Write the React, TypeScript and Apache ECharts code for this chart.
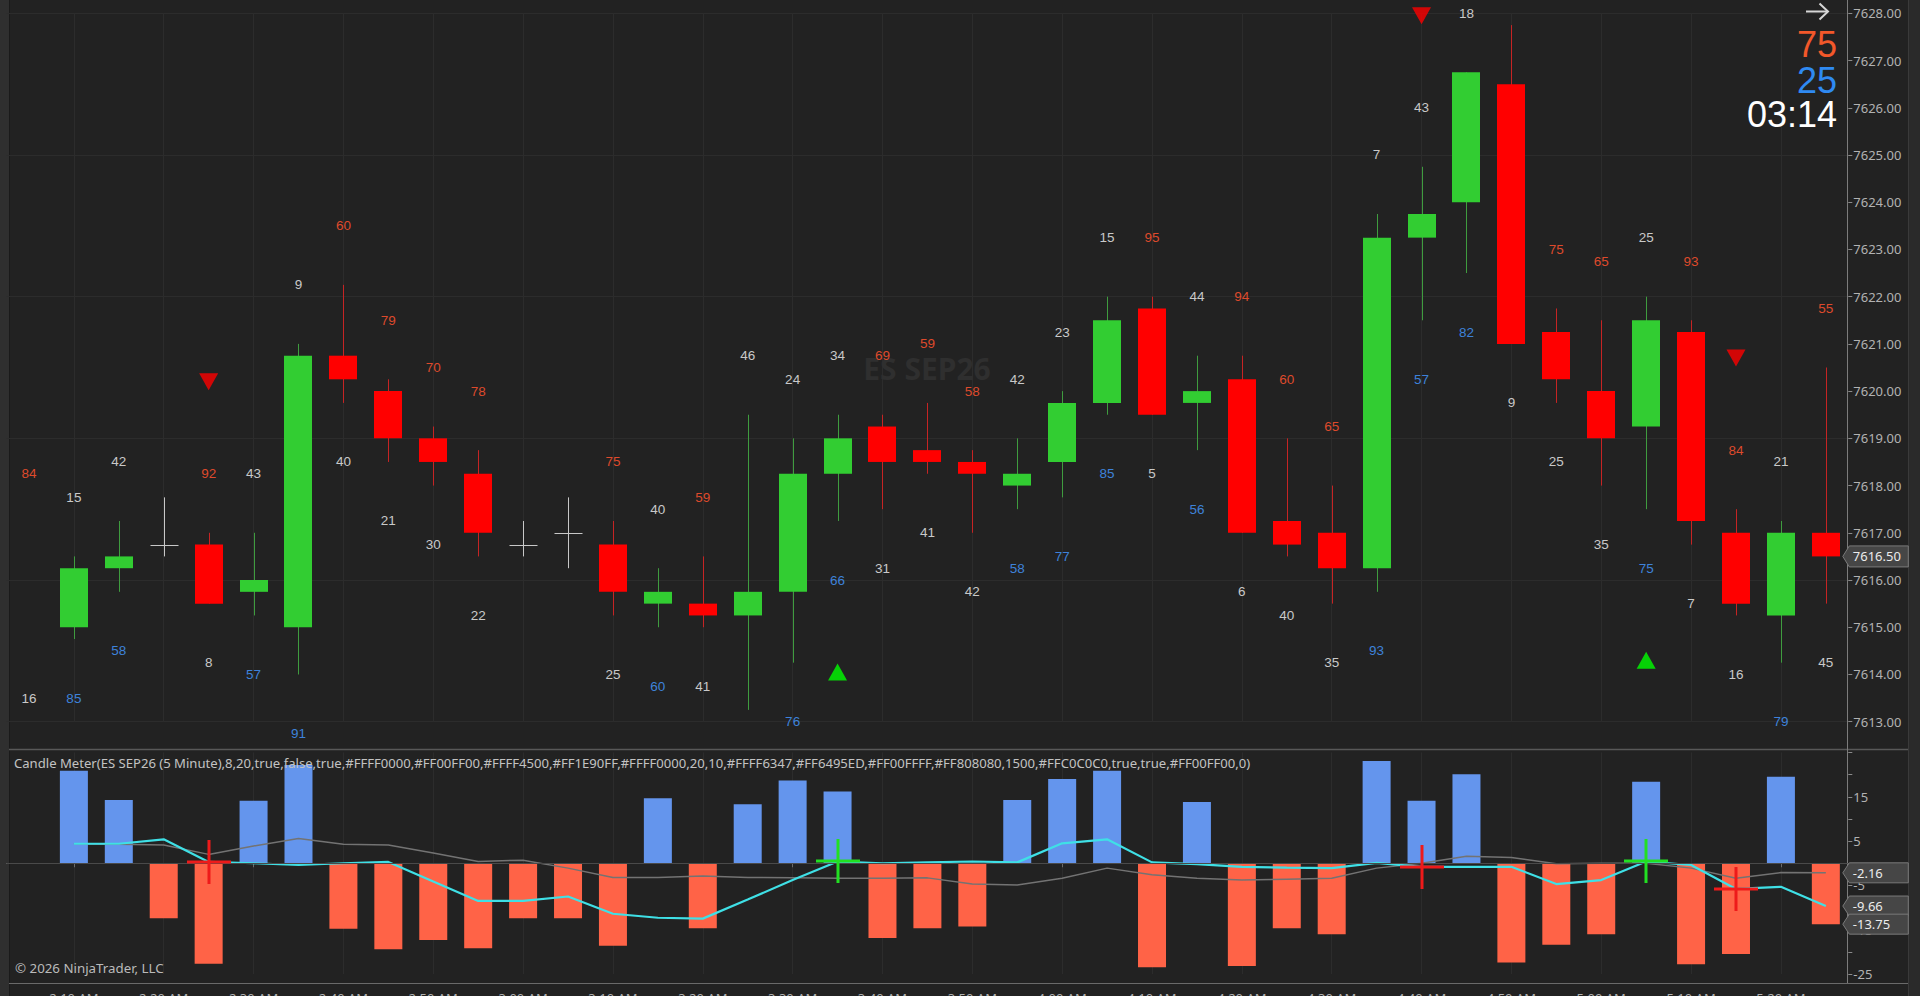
import React, { useEffect, useRef } from "react";
import * as echarts from "echarts";

// ---------- categories (5 minute bars) ----------
const times: string[] = [
  "2:05 AM", "2:10 AM", "2:15 AM", "2:20 AM", "2:25 AM", "2:30 AM", "2:35 AM", "2:40 AM", "2:45 AM", "2:50 AM",
  "2:55 AM", "3:00 AM", "3:05 AM", "3:10 AM", "3:15 AM", "3:20 AM", "3:25 AM", "3:30 AM", "3:35 AM", "3:40 AM",
  "3:45 AM", "3:50 AM", "3:55 AM", "4:00 AM", "4:05 AM", "4:10 AM", "4:15 AM", "4:20 AM", "4:25 AM", "4:30 AM",
  "4:35 AM", "4:40 AM", "4:45 AM", "4:50 AM", "4:55 AM", "5:00 AM", "5:05 AM", "5:10 AM", "5:15 AM", "5:20 AM",
  "5:25 AM",
];

// ---------- price bars ----------
const opens: (number | null)[] = [
  null, 7615.0, 7616.25, 7616.75, 7616.75, 7615.75, 7615.0, 7620.75, 7620.0, 7619.0,
  7618.25, 7616.75, 7617.0, 7616.75, 7615.5, 7615.5, 7615.25, 7615.75, 7618.25, 7619.25,
  7618.75, 7618.5, 7618.0, 7618.5, 7619.75, 7621.75, 7619.75, 7620.25, 7617.25, 7617.0,
  7616.25, 7623.25, 7624.0, 7626.5, 7621.25, 7620.0, 7619.25, 7621.25, 7617.0, 7615.25,
  7617.0,
];
const closes: (number | null)[] = [
  null, 7616.25, 7616.5, 7616.75, 7615.5, 7616.0, 7620.75, 7620.25, 7619.0, 7618.5,
  7617.0, 7616.75, 7617.0, 7615.75, 7615.75, 7615.25, 7615.75, 7618.25, 7619.0, 7618.5,
  7618.5, 7618.25, 7618.25, 7619.75, 7621.5, 7619.5, 7620.0, 7617.0, 7616.75, 7616.25,
  7623.25, 7623.75, 7626.75, 7621.0, 7620.25, 7619.0, 7621.5, 7617.25, 7615.5, 7617.0,
  7616.5,
];
const highs: number[] = [
  7617.0, 7616.5, 7617.25, 7617.75, 7617.0, 7617.0, 7621.0, 7622.25, 7620.25, 7619.25,
  7618.75, 7617.25, 7617.75, 7617.25, 7616.25, 7616.5, 7619.5, 7619.0, 7619.5, 7619.5,
  7619.75, 7618.75, 7619.0, 7620.0, 7622.0, 7622.0, 7620.75, 7620.75, 7619.0, 7618.0,
  7623.75, 7624.75, 7626.75, 7627.75, 7621.75, 7621.5, 7622.0, 7621.5, 7617.5, 7617.25,
  7620.5,
];
const lows: number[] = [
  7614.75, 7614.75, 7615.75, 7616.5, 7615.5, 7615.25, 7614.0, 7619.75, 7618.5, 7618.0,
  7616.5, 7616.5, 7616.25, 7615.25, 7615.0, 7615.0, 7613.25, 7614.25, 7617.25, 7617.5,
  7618.25, 7617.0, 7617.5, 7617.75, 7619.5, 7619.5, 7618.75, 7617.0, 7616.5, 7615.5,
  7615.75, 7621.5, 7622.5, 7621.0, 7619.75, 7618.0, 7617.5, 7616.75, 7615.25, 7614.25,
  7615.5,
];

// ---------- per-bar meter numbers ----------
const upperValues: (number | null)[] = [
  84, 15, 42, null, 92, 43, 9, 60, 79, 70,
  78, null, null, 75, 40, 59, 46, 24, 34, 69,
  59, 58, 42, 23, 15, 95, 44, 94, 60, 65,
  7, 43, 18, null, 75, 65, 25, 93, 84, 21,
  55,
];
const upperKinds: string[] = [
  "r", "g", "g", "g", "r", "g", "g", "r", "r", "r",
  "r", "g", "g", "r", "g", "r", "g", "g", "g", "r",
  "r", "r", "g", "g", "g", "r", "g", "r", "r", "r",
  "g", "g", "g", "r", "r", "r", "g", "r", "r", "g",
  "r",
];
const lowerValues: (number | null)[] = [
  16, 85, 58, null, 8, 57, 91, 40, 21, 30,
  22, null, null, 25, 60, 41, null, 76, 66, 31,
  41, 42, 58, 77, 85, 5, 56, 6, 40, 35,
  93, 57, 82, 9, 25, 35, 75, 7, 16, 79,
  45,
];
const lowerKinds: string[] = [
  "g", "b", "b", "g", "g", "b", "b", "g", "g", "g",
  "g", "g", "g", "g", "b", "g", "b", "b", "b", "g",
  "g", "g", "b", "b", "b", "g", "b", "g", "g", "g",
  "b", "b", "b", "g", "g", "g", "b", "g", "g", "b",
  "g",
];

// ---------- signals ----------
const sellSignalBars: number[] = [4, 31, 38];
const buySignalBars: number[] = [18, 36];

// ---------- Candle Meter panel ----------
const meterBars: (number | null)[] = [
  null, 20.9, 14.3, -12.4, -22.7, 14.1, 22.2, -14.8, -19.4, -17.3,
  -19.2, -12.4, -12.4, -18.6, 14.7, -14.7, 13.3, 18.7, 16.2, -16.9,
  -14.7, -14.3, 14.3, 19.0, 20.9, -23.5, 13.8, -23.2, -14.7, -16.0,
  23.1, 14.1, 20.1, -22.4, -18.4, -16.0, 18.4, -22.8, -20.5, 19.5,
  -13.75,
];
const fastLine: (number | null)[] = [
  null, 4.4, 4.4, 5.4, 0.3, 0.0, -0.4, 0.0, 0.3, -4.1,
  -8.5, -8.5, -7.5, -11.4, -12.3, -12.5, -8.2, -3.8, 0.4, 0.0,
  0.2, 0.4, 0.2, 4.5, 5.4, 0.2, -0.2, -0.8, -1.0, -1.1,
  0.1, -0.8, -0.8, -0.8, -4.7, -3.8, 0.4, -0.4, -5.8, -5.3,
  -9.66,
];
const slowLine: (number | null)[] = [
  null, 4.4, 4.3, 4.1, 2.0, 3.9, 5.6, 4.3, 4.1, 2.3,
  0.4, 0.7, -1.1, -3.2, -3.2, -2.9, -3.2, -3.3, -3.4, -3.4,
  -3.3, -4.7, -4.9, -3.4, -1.1, -2.6, -3.4, -3.8, -3.6, -3.4,
  -1.1, 0.0, 1.6, 1.3, -0.1, 0.0, 0.0, -1.1, -3.4, -2.1,
  -2.16,
];
const meterAxisLabels: number[] = [15, 5, -5, -15, -25];

// ---------- overlay texts ----------
const instrument = "ES SEP26";
const indicatorTitle =
  "Candle Meter(ES SEP26 (5 Minute),8,20,true,false,true,#FFFF0000,#FF00FF00,#FFFF4500,#FF1E90FF,#FFFF0000,20,10,#FFFF6347,#FF6495ED,#FF00FFFF,#FF808080,1500,#FFC0C0C0,true,true,#FF00FF00,0)";
const copyright = "© 2026 NinjaTrader, LLC";
const sellPct = "75";
const buyPct = "25";
const barTimer = "03:14";

// ---------- styles ----------
const BG = "#222222";
const GRID_C = "#2c2c2c";
const UP = "#32CD32";
const DOWN = "#FF0000";
const UP_WICK = "#3f9c3f";
const DOWN_WICK = "#c62424";
const DOJI = "#c8c8c8";
const LBL = { r: "#DE4A2C", g: "#C9C9C9", b: "#3E82DA" } as Record<string, string>;
const LABEL_GAP = 1.25;
const SIGNAL_GAP = 3.2;
const AXIS_FONT = "Noto Sans";
const NUM_FONT = "Liberation Sans";

const oddIdx = (i: number) => i % 2 === 1;

function buildOption(): any {
  const candleData: number[][] = [];
  opens.forEach((o, i) => {
    const c = closes[i];
    if (o != null && c != null) candleData.push([i, o, c, lows[i], highs[i]]);
  });

  const labelItems: { i: number; p: number; text: string; color: string }[] = [];
  upperValues.forEach((v, i) => {
    if (v != null) labelItems.push({ i, p: highs[i] + LABEL_GAP, text: String(v), color: LBL[upperKinds[i]] });
  });
  lowerValues.forEach((v, i) => {
    if (v != null) labelItems.push({ i, p: lows[i] - LABEL_GAP, text: String(v), color: LBL[lowerKinds[i]] });
  });

  const crossItems = [
    ...sellSignalBars.map((i) => ({ i, v: fastLine[i] as number, color: "#ee1a1a" })),
    ...buySignalBars.map((i) => ({ i, v: fastLine[i] as number, color: "#22e022" })),
  ];

  const last = times.length - 1;
  const meterTags = [
    { v: slowLine[last] as number },
    { v: fastLine[last] as number },
    { v: meterBars[last] as number },
  ];

  const tagRender = (texts: string[], hh: number) => (params: any, api: any) => {
    const p = api.coord([api.value(0), api.value(1)]);
    const cs = params.coordSys;
    const re = cs.x + cs.width;
    const y = p[1];
    return {
      type: "group",
      children: [
        {
          type: "polygon",
          shape: { points: [[re - 5.5, y], [re + 1, y - hh], [re + 60, y - hh], [re + 60, y + hh], [re + 1, y + hh]] },
          style: { fill: "#464646", stroke: "#7a7a7a", lineWidth: 1 },
        },
        {
          type: "text",
          x: re + 4.5,
          y: y,
          style: { text: texts[params.dataIndex], fill: "#ececec", font: `13px "${AXIS_FONT}"`, align: "left", verticalAlign: "middle" },
        },
      ],
    };
  };

  const axisLabelStyle = { color: "#b2b2b2", fontSize: 13, fontFamily: AXIS_FONT, margin: 5 };

  return {
    animation: false,
    backgroundColor: BG,
    textStyle: { fontFamily: AXIS_FONT },
    grid: [
      { left: 6.5, right: 71.7, top: 13.3, height: 708.4, containLabel: false, outerBoundsMode: "none" },
      { left: 6.5, right: 71.7, top: 752.5, height: 221.5, containLabel: false, outerBoundsMode: "none" },
    ],
    xAxis: [
      {
        type: "category",
        gridIndex: 0,
        data: times,
        boundaryGap: true,
        axisLine: { show: false },
        axisTick: { show: false },
        axisLabel: { show: false },
        splitLine: { show: true, interval: oddIdx, alignWithLabel: true, lineStyle: { color: GRID_C, width: 1 } },
      },
      {
        type: "category",
        gridIndex: 1,
        data: times,
        boundaryGap: true,
        offset: 9,
        axisLine: { show: true, lineStyle: { color: "#6a6a6a" } },
        axisTick: { show: true, interval: oddIdx, alignWithLabel: true, length: 4, lineStyle: { color: "#6a6a6a" } },
        axisLabel: { interval: oddIdx, margin: 8, color: "#b0b0b0", fontSize: 13, fontFamily: AXIS_FONT },
        splitLine: { show: true, interval: oddIdx, alignWithLabel: true, lineStyle: { color: GRID_C, width: 1 } },
      },
    ],
    yAxis: [
      {
        type: "value",
        gridIndex: 0,
        position: "right",
        min: 7613,
        max: 7628,
        interval: 1,
        axisLine: { show: false },
        axisTick: { show: true, length: 4, lineStyle: { color: "#8a8a8a" } },
        axisLabel: { ...axisLabelStyle, formatter: (v: number) => v.toFixed(2) },
        splitLine: { show: false },
      },
      {
        type: "value",
        gridIndex: 0,
        position: "right",
        min: 7613,
        max: 7628,
        interval: 3,
        axisLine: { show: false },
        axisTick: { show: false },
        axisLabel: { show: false },
        splitLine: { show: true, lineStyle: { color: GRID_C, width: 1 } },
      },
      {
        type: "value",
        gridIndex: 1,
        position: "right",
        min: -25,
        max: 25,
        interval: 5,
        axisLine: { show: false },
        axisTick: { show: true, length: 4, lineStyle: { color: "#8a8a8a" } },
        axisLabel: { ...axisLabelStyle, formatter: (v: number) => (meterAxisLabels.includes(v) ? String(v) : "") },
        splitLine: { show: false },
      },
    ],
    series: [
      {
        type: "custom",
        name: "candles",
        xAxisIndex: 0,
        yAxisIndex: 0,
        clip: false,
        z: 3,
        data: candleData,
        encode: { x: 0, y: [1, 2, 3, 4] },
        renderItem: (params: any, api: any) => {
          const i = api.value(0);
          const o = api.value(1);
          const c = api.value(2);
          const l = api.value(3);
          const h = api.value(4);
          const pO = api.coord([i, o]);
          const pC = api.coord([i, c]);
          const pL = api.coord([i, l]);
          const pH = api.coord([i, h]);
          const band = api.size([1, 0])[0];
          const bw = Math.round(band * 0.62);
          const xc = Math.round(pO[0]) + 0.5;
          const doji = o === c;
          const up = c > o;
          const children: any[] = [
            {
              type: "line",
              shape: { x1: xc, y1: pH[1], x2: xc, y2: pL[1] },
              style: { stroke: doji ? DOJI : up ? UP_WICK : DOWN_WICK, lineWidth: 1 },
            },
          ];
          if (doji) {
            const yy = Math.round(pO[1]) + 0.5;
            children.push({
              type: "line",
              shape: { x1: xc - bw / 2, y1: yy, x2: xc + bw / 2, y2: yy },
              style: { stroke: DOJI, lineWidth: 1 },
            });
          } else {
            const top = Math.min(pO[1], pC[1]);
            const bot = Math.max(pO[1], pC[1]);
            children.push({
              type: "rect",
              shape: { x: xc - 0.5 - bw / 2, y: top, width: bw, height: bot - top },
              style: { fill: up ? UP : DOWN },
            });
          }
          return { type: "group", children };
        },
      },
      {
        type: "custom",
        name: "meter numbers",
        xAxisIndex: 0,
        yAxisIndex: 0,
        clip: false,
        z: 4,
        data: labelItems.map((d) => [d.i, d.p]),
        renderItem: (params: any, api: any) => {
          const d = labelItems[params.dataIndex];
          const p = api.coord([api.value(0), api.value(1)]);
          return {
            type: "text",
            x: p[0],
            y: p[1],
            style: { text: d.text, fill: d.color, font: `13.5px "${NUM_FONT}"`, align: "center", verticalAlign: "middle" },
          };
        },
      },
      {
        type: "scatter",
        name: "sell",
        xAxisIndex: 0,
        yAxisIndex: 0,
        clip: false,
        z: 4,
        symbol: "triangle",
        symbolRotate: 180,
        symbolSize: [19, 17],
        itemStyle: { color: "#FF0000" },
        data: sellSignalBars.map((i) => [i, highs[i] + SIGNAL_GAP]),
      },
      {
        type: "scatter",
        name: "buy",
        xAxisIndex: 0,
        yAxisIndex: 0,
        clip: false,
        z: 4,
        symbol: "triangle",
        symbolSize: [19, 17],
        itemStyle: { color: "#00FF00" },
        data: buySignalBars.map((i) => [i, lows[i] - SIGNAL_GAP]),
      },
      {
        type: "custom",
        name: "price tag",
        xAxisIndex: 0,
        yAxisIndex: 0,
        clip: false,
        z: 10,
        data: [[last, closes[last] as number]],
        renderItem: tagRender([(closes[last] as number).toFixed(2)], 10.5),
      },
      {
        type: "bar",
        name: "meter",
        xAxisIndex: 1,
        yAxisIndex: 2,
        barWidth: 28,
        z: 2,
        data: meterBars.map((v) =>
          v == null ? "-" : { value: v, itemStyle: { color: v >= 0 ? "#6495ED" : "#FF6347" } }
        ),
        markLine: {
          silent: true,
          symbol: ["none", "none"],
          label: { show: false },
          lineStyle: { color: "#4a4a4a", type: "solid", width: 1 },
          data: [{ yAxis: 0 }],
        },
      },
      {
        type: "line",
        name: "slow",
        xAxisIndex: 1,
        yAxisIndex: 2,
        z: 3,
        symbol: "none",
        showSymbol: false,
        lineStyle: { color: "#737373", width: 1.5 },
        data: slowLine.map((v) => (v == null ? "-" : v)),
      },
      {
        type: "line",
        name: "fast",
        xAxisIndex: 1,
        yAxisIndex: 2,
        z: 4,
        symbol: "none",
        showSymbol: false,
        lineStyle: { color: "#3fe0e6", width: 2.2 },
        data: fastLine.map((v) => (v == null ? "-" : v)),
      },
      {
        type: "custom",
        name: "signal marks",
        xAxisIndex: 1,
        yAxisIndex: 2,
        clip: false,
        z: 5,
        data: crossItems.map((d) => [d.i, d.v]),
        renderItem: (params: any, api: any) => {
          const d = crossItems[params.dataIndex];
          const p = api.coord([api.value(0), api.value(1)]);
          const x = Math.round(p[0]);
          const y = Math.round(p[1]);
          return {
            type: "group",
            children: [
              { type: "line", shape: { x1: x - 22, y1: y, x2: x + 22, y2: y }, style: { stroke: d.color, lineWidth: 3 } },
              { type: "line", shape: { x1: x, y1: y - 22, x2: x, y2: y + 22 }, style: { stroke: d.color, lineWidth: 3 } },
            ],
          };
        },
      },
      {
        type: "custom",
        name: "meter tags",
        xAxisIndex: 1,
        yAxisIndex: 2,
        clip: false,
        z: 10,
        data: meterTags.map((t) => [last, t.v]),
        renderItem: tagRender(meterTags.map((t) => t.v.toFixed(2)), 10),
      },
    ],
    graphic: {
      elements: [
        { type: "rect", z: 0, silent: true, shape: { x: 0, y: 0, width: 9, height: 996 }, style: { fill: "#2f2f2f" } },
        { type: "line", z: 0, silent: true, shape: { x1: 9.5, y1: 0, x2: 9.5, y2: 996 }, style: { stroke: "#1a1a1a", lineWidth: 1 } },
        { type: "rect", z: 0, silent: true, shape: { x: 1909, y: 0, width: 11, height: 996 }, style: { fill: "#2a2a2a" } },
        { type: "line", z: 0, silent: true, shape: { x1: 1908.5, y1: 0, x2: 1908.5, y2: 996 }, style: { stroke: "#3a3a3a", lineWidth: 1 } },
        { type: "line", z: 1, silent: true, shape: { x1: 9, y1: 749.5, x2: 1908, y2: 749.5 }, style: { stroke: "#585858", lineWidth: 1.5 } },
        { type: "line", z: 1, silent: true, shape: { x1: 9, y1: 983.5, x2: 1908, y2: 983.5 }, style: { stroke: "#6a6a6a", lineWidth: 1 } },
        { type: "line", z: 1, silent: true, shape: { x1: 1847.5, y1: 0, x2: 1847.5, y2: 983 }, style: { stroke: "#7c7c7c", lineWidth: 1 } },
        {
          type: "text",
          z: 1,
          silent: true,
          x: 927,
          y: 368,
          style: { text: instrument, fill: "#2f2f2f", font: `bold 30px "${AXIS_FONT}"`, align: "center", verticalAlign: "middle" },
        },
        {
          type: "text",
          z: 50,
          silent: true,
          x: 14,
          y: 763,
          style: { text: indicatorTitle, fill: "#c2c2c2", font: `13.1px "${AXIS_FONT}"`, align: "left", verticalAlign: "middle" },
        },
        {
          type: "text",
          z: 50,
          silent: true,
          x: 15,
          y: 968,
          style: { text: copyright, fill: "#bababa", font: `13.3px "${AXIS_FONT}"`, align: "left", verticalAlign: "middle" },
        },
        {
          type: "polyline",
          z: 50,
          silent: true,
          shape: { points: [[1806, 11.5], [1828, 11.5]] },
          style: { stroke: "#d6d6d6", lineWidth: 2 },
        },
        {
          type: "polyline",
          z: 50,
          silent: true,
          shape: { points: [[1819.5, 3.5], [1828, 11.5], [1819.5, 19.5]] },
          style: { stroke: "#d6d6d6", lineWidth: 2, fill: null },
        },
        {
          type: "text",
          z: 50,
          silent: true,
          x: 1837,
          y: 44,
          style: { text: sellPct, fill: "#F2582A", font: `36px "${NUM_FONT}"`, align: "right", verticalAlign: "middle" },
        },
        {
          type: "text",
          z: 50,
          silent: true,
          x: 1837,
          y: 80,
          style: { text: buyPct, fill: "#2F8AF2", font: `36px "${NUM_FONT}"`, align: "right", verticalAlign: "middle" },
        },
        {
          type: "text",
          z: 50,
          silent: true,
          x: 1837,
          y: 114.5,
          style: { text: barTimer, fill: "#ffffff", font: `36px "${NUM_FONT}"`, align: "right", verticalAlign: "middle" },
        },
      ],
    },
  };
}

export default function App() {
  const ref = useRef<HTMLDivElement>(null);
  useEffect(() => {
    if (!ref.current) return;
    const chart = echarts.init(ref.current, null, { renderer: "svg" });
    chart.setOption(buildOption());
    return () => {
      chart.dispose();
    };
  }, []);
  return <div ref={ref} style={{ position: "fixed", left: 0, top: 0, width: 1920, height: 996 }} />;
}
